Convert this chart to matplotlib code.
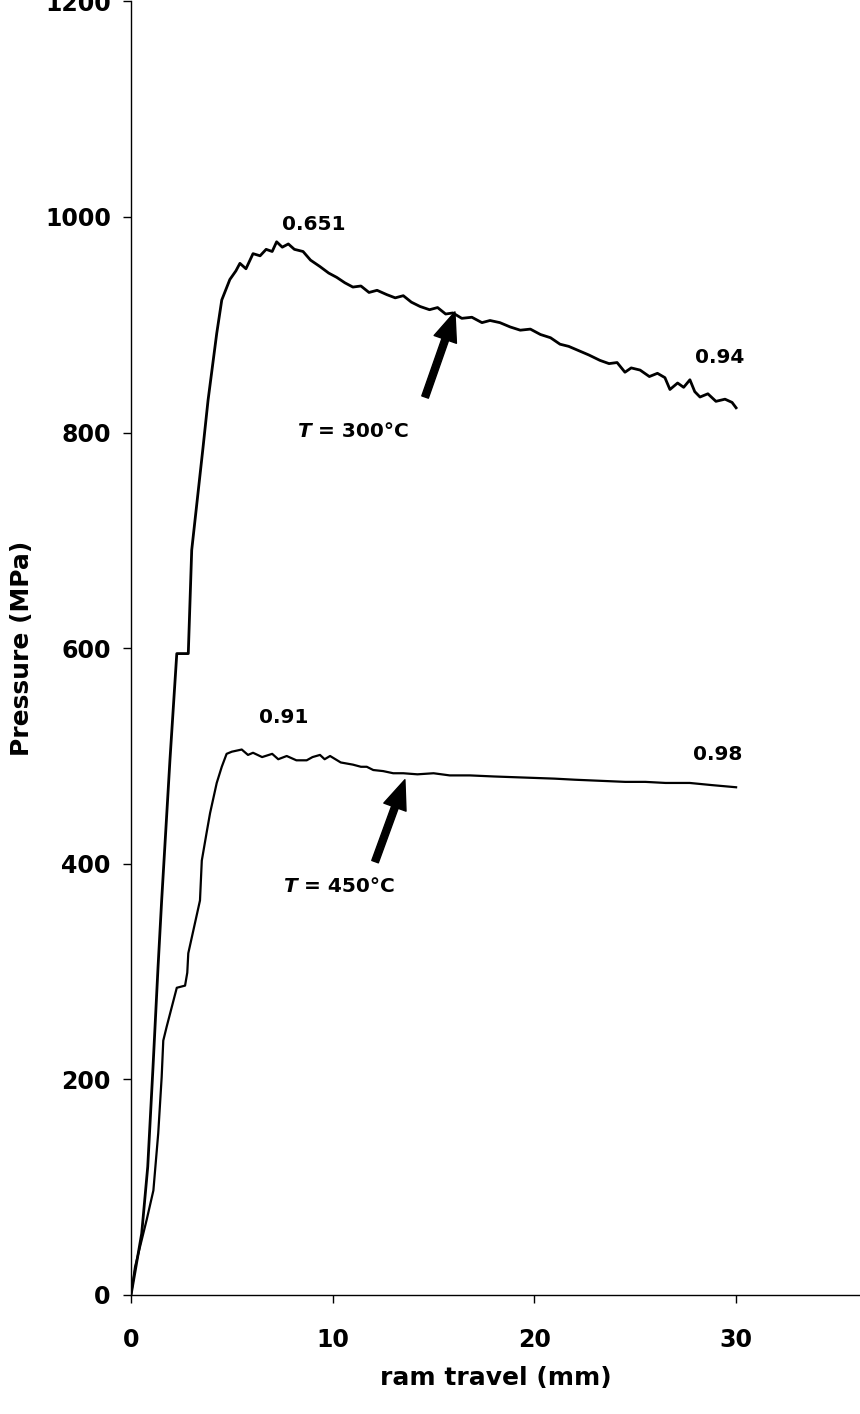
import matplotlib
matplotlib.use('Agg')
import matplotlib.pyplot as plt

plt.rcParams['font.family'] = ['DejaVu Sans']
plt.rcParams['font.weight'] = 'bold'

# ram travel (mm) / pressure (MPa)
x_300 = [0, 0.53, 0.83, 1.09, 1.34, 1.52, 1.93, 2.27, 2.84, 3.01, 3.57, 3.82, 4.25, 4.50,
         4.90, 5.2, 5.40, 5.7, 6.05, 6.4, 6.7, 7.0, 7.22, 7.5, 7.8, 8.1, 8.53, 8.9, 9.37,
         9.8, 10.2, 10.6, 11.0, 11.4, 11.8, 12.2, 12.68, 13.1, 13.5, 13.9, 14.33, 14.8,
         15.2, 15.6, 15.96, 16.4, 16.9, 17.4, 17.8, 18.29, 18.8, 19.3, 19.8, 20.3, 20.8,
         21.27, 21.7, 22.2, 22.7, 23.25, 23.7, 24.1, 24.49, 24.8, 25.24, 25.7, 26.1, 26.47,
         26.72, 27.1, 27.4, 27.71, 27.95, 28.21, 28.6, 29.0, 29.45, 29.8, 30.0]
p_300 = [0, 57, 119, 211, 304, 366, 496, 595, 595, 691, 786, 830, 892, 923,
         942, 950, 957, 952, 966, 964, 970, 968, 977, 972, 975, 970, 968, 960, 954,
         948, 944, 939, 935, 936, 930, 932, 928, 925, 927, 921, 917, 914,
         916, 910, 911, 906, 907, 902, 904, 902, 898, 895, 896, 891, 888,
         882, 880, 876, 872, 867, 864, 865, 856, 860, 858, 852, 855, 851,
         840, 846, 842, 849, 838, 833, 836, 829, 831, 828, 823]

x_450 = [0, 0.2, 0.78, 1.11, 1.35, 1.52, 1.60, 1.77, 2.02, 2.27, 2.68, 2.79, 2.84, 3.42,
         3.51, 3.75, 3.92, 4.25, 4.50, 4.74, 5.0, 5.49, 5.8, 6.05, 6.5, 7.0, 7.3, 7.72,
         8.2, 8.71, 9.0, 9.37, 9.6, 9.87, 10.4, 11.0, 11.4, 11.69, 12.01, 12.5, 13.0,
         13.5, 14.2, 15.0, 15.8, 16.8, 18.0, 19.5, 21.0, 22.0, 23.25, 24.5, 25.5, 26.5,
         27.7, 28.8, 30.0]
p_450 = [0, 26, 70, 97, 150, 202, 236, 249, 267, 285, 287, 299, 317, 366,
         403, 429, 447, 475, 490, 502, 504, 506, 501, 503, 499, 502, 497, 500,
         496, 496, 499, 501, 497, 500, 494, 492, 490, 490, 487, 486, 484,
         484, 483, 484, 482, 482, 481, 480, 479, 478, 477, 476, 476, 475,
         475, 473, 471]

# value labels along the curves
labels = ['0.651', '0.94', '0.91', '0.98']
label_x = [9.07, 29.2, 7.59, 29.08]
label_y = [988, 864.6, 530.6, 496.3]

# temperature labels and their arrows
temps = ['300', '450']
temp_x = [8.22, 7.54]
temp_y = [796, 374]
arrow_tail = [(14.58, 833), (12.10, 402)]
arrow_head = [(16.06, 912), (13.58, 478)]

fig = plt.figure(figsize=(8.6, 14.14), dpi=100)
ax = fig.add_axes([131 / 860, 119 / 1414, 729 / 860, 1293.6 / 1414])

ax.plot(x_300, p_300, color='black', linewidth=2.0)
ax.plot(x_450, p_450, color='black', linewidth=1.6)

for s, lx, ly in zip(labels, label_x, label_y):
    ax.text(lx, ly, s, ha='center', va='baseline', fontsize=14.5, fontweight='bold')

arrow = dict(facecolor='black', edgecolor='black', width=5, headwidth=17,
             headlength=21, shrink=0)
for t, tx, ty, tail, head in zip(temps, temp_x, temp_y, arrow_tail, arrow_head):
    ax.annotate('', xy=head, xytext=tail, arrowprops=arrow)
    t1 = ax.text(tx, ty, 'T', ha='left', va='baseline', fontsize=14.5,
                 fontweight='bold', fontstyle='italic')
    ax.annotate(' = %s°C' % t, xy=(1, 0), xycoords=t1, ha='left', va='bottom',
                fontsize=14.5, fontweight='bold')

ax.set_xlim(0, 729 / 20.17)
ax.set_ylim(0, 1200)
ax.set_xticks([0, 10, 20, 30])
ax.set_yticks(range(0, 1201, 200))

ax.spines['top'].set_visible(False)
ax.spines['right'].set_visible(False)
for sp in ('left', 'bottom'):
    ax.spines[sp].set_linewidth(1.0)
ax.tick_params(axis='both', direction='out', length=6, width=1, labelsize=17)
ax.tick_params(axis='x', pad=18)
ax.tick_params(axis='y', pad=8.5)
for lab in ax.get_xticklabels() + ax.get_yticklabels():
    lab.set_fontweight('bold')

ax.set_xlabel('ram travel (mm)', fontsize=18, fontweight='bold', labelpad=9.5)
ax.set_ylabel('Pressure (MPa)', fontsize=18, fontweight='bold', labelpad=8)

fig.savefig('out.png', dpi=100)
